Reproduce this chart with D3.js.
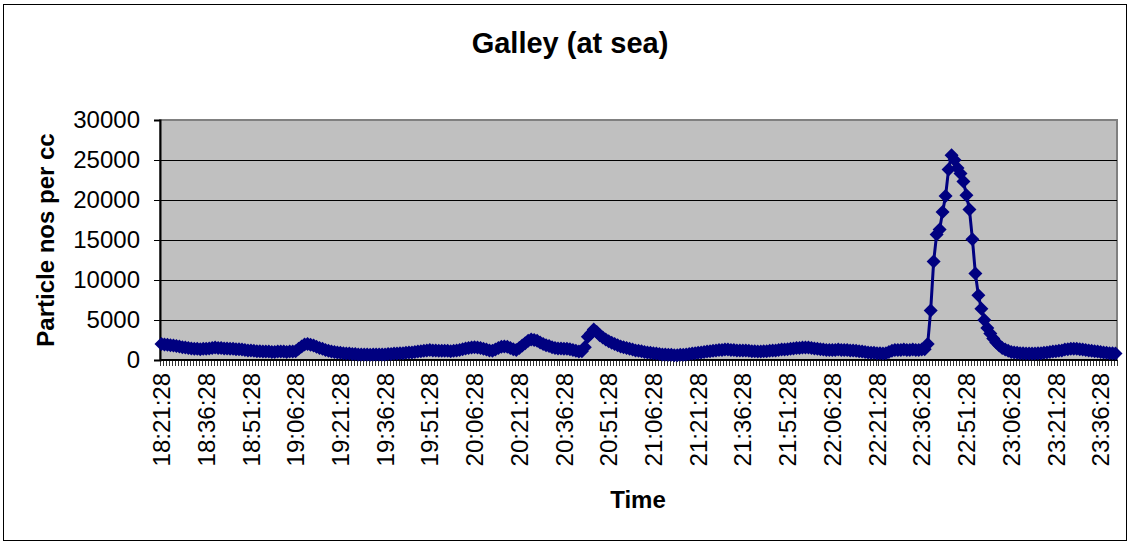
<!DOCTYPE html>
<html>
<head>
<meta charset="utf-8">
<script src="https://cdn.jsdelivr.net/npm/d3@7"></script>
<style>
  body { margin: 0; background: #fff; }
  text { font-family: Arial, "Liberation Sans", sans-serif; fill: #000; }
</style>
</head>
<body>
<script>
/**
 * DATA
 */
const START_TIME = "18:21:28"; // first reading, then one reading per minute
const particles = [
  2000, 1950, 1900, 1850, 1800, 1750, 1700, 1600, 1550, 1500, 1450, 1400, 1400, 1350, 1400, 1400, 1450, 1500, 1550, 1500,
  1500, 1450, 1450, 1400, 1400, 1350, 1350, 1300, 1250, 1200, 1200, 1150, 1100, 1100, 1050, 1050, 1050, 1000, 1000, 1050,
  1050, 1050, 1000, 1050, 1050, 1100, 1400, 1700, 1950, 2000, 1900, 1800, 1650, 1500, 1400, 1250, 1150, 1050, 1000, 950,
  900, 850, 800, 800, 750, 750, 700, 700, 700, 700, 650, 700, 700, 700, 700, 700, 750, 750, 800, 800,
  850, 850, 900, 950, 950, 1000, 1050, 1100, 1150, 1200, 1250, 1200, 1200, 1150, 1150, 1150, 1150, 1100, 1150, 1200,
  1250, 1350, 1450, 1500, 1550, 1600, 1550, 1500, 1400, 1300, 1200, 1150, 1300, 1500, 1650, 1700, 1650, 1500, 1350, 1250,
  1500, 1800, 2100, 2400, 2550, 2500, 2400, 2200, 2000, 1850, 1750, 1600, 1500, 1450, 1450, 1400, 1400, 1350, 1250, 1150,
  1050, 1100, 1600, 2900, 3300, 3800, 3500, 3100, 2800, 2550, 2350, 2150, 2000, 1850, 1700, 1600, 1500, 1400, 1300, 1200,
  1150, 1100, 1000, 950, 900, 850, 800, 750, 700, 700, 650, 650, 600, 600, 650, 650, 700, 750, 800, 850,
  900, 950, 1000, 1050, 1100, 1150, 1200, 1250, 1250, 1300, 1300, 1250, 1250, 1200, 1200, 1200, 1200, 1150, 1100, 1100,
  1050, 1050, 1100, 1100, 1150, 1200, 1200, 1250, 1300, 1300, 1350, 1400, 1450, 1500, 1500, 1550, 1550, 1550, 1500, 1450,
  1400, 1350, 1300, 1250, 1250, 1250, 1250, 1300, 1250, 1250, 1250, 1200, 1200, 1150, 1100, 1050, 1000, 950, 900, 900,
  850, 850, 800, 850, 1000, 1150, 1250, 1250, 1250, 1300, 1250, 1250, 1300, 1250, 1250, 1300, 1350, 2000, 6200, 12300,
  15700, 16300, 18500, 20500, 23800, 25600, 25000, 24000, 23300, 22300, 20600, 18800, 15100, 10800, 8100, 6400, 5000, 4000, 3300, 2700,
  2200, 1800, 1500, 1300, 1150, 1000, 950, 900, 850, 850, 800, 800, 800, 800, 850, 850, 900, 950, 1000, 1050,
  1100, 1150, 1200, 1300, 1350, 1400, 1400, 1400, 1350, 1300, 1250, 1200, 1150, 1100, 1050, 1000, 950, 900, 850, 850,
  800
];
const yTicks = [0, 5000, 10000, 15000, 20000, 25000, 30000];
const xTickLabels = [
  "18:21:28", "18:36:28", "18:51:28", "19:06:28", "19:21:28", "19:36:28", "19:51:28", "20:06:28",
  "20:21:28", "20:36:28", "20:51:28", "21:06:28", "21:21:28", "21:36:28", "21:51:28", "22:06:28",
  "22:21:28", "22:36:28", "22:51:28", "23:06:28", "23:21:28", "23:36:28"
];
const LABEL_EVERY = 15; // a time label on every 15th category

/**
 * LAYOUT
 */
const WIDTH = 1130;
const HEIGHT = 544;
const PLOT = { left: 160, right: 1117, top: 120, bottom: 360 };
const NAVY = "#000080";
const MARKER_R = 7;
const TICK_FONT = 24;

// categories: one string per reading, minute by minute from START_TIME
const parseTime = d3.timeParse("%H:%M:%S");
const fmtTime = d3.timeFormat("%H:%M:%S");
const categories = particles.map((_d, i) =>
  fmtTime(d3.timeMinute.offset(parseTime(START_TIME), i))
);

const svg = d3
  .select("body")
  .append("svg")
  .attr("width", WIDTH)
  .attr("height", HEIGHT);

// outer chart border
svg
  .append("rect")
  .attr("x", 3.5)
  .attr("y", 4.5)
  .attr("width", 1123)
  .attr("height", 536)
  .attr("fill", "#fff")
  .attr("stroke", "#000");

const x = d3
  .scaleBand()
  .domain(categories)
  .range([PLOT.left, PLOT.right])
  .padding(0);
const y = d3.scaleLinear().domain([0, 30000]).range([PLOT.bottom, PLOT.top]);
const cx = (d) => x(d) + x.bandwidth() / 2;

// plot area
svg
  .append("rect")
  .attr("x", PLOT.left)
  .attr("y", PLOT.top)
  .attr("width", PLOT.right - PLOT.left)
  .attr("height", PLOT.bottom - PLOT.top)
  .attr("fill", "#c0c0c0")
  .attr("stroke", "#808080")
  .attr("stroke-width", 2);

// gridlines
svg
  .append("g")
  .selectAll("line")
  .data(yTicks.filter((d) => d > 0 && d < 30000))
  .join("line")
  .attr("x1", PLOT.left)
  .attr("x2", PLOT.right)
  .attr("y1", (d) => Math.round(y(d)) + 0.5)
  .attr("y2", (d) => Math.round(y(d)) + 0.5)
  .attr("stroke", "#000")
  .attr("stroke-width", 1);

// y axis
const yAxis = svg
  .append("g")
  .attr("transform", `translate(${PLOT.left},0)`)
  .call(
    d3.axisLeft(y).tickValues(yTicks).tickSize(6).tickPadding(14).tickFormat(d3.format("d"))
  );
yAxis.select(".domain").attr("stroke", "#000").attr("stroke-width", 2);
yAxis.selectAll("text").attr("font-size", TICK_FONT).attr("font-family", null);

// x axis: tick marks on each category boundary, labels every 15th category
const boundaries = categories.map((c) => x(c)).concat([PLOT.right]);
svg
  .append("g")
  .selectAll("line")
  .data(boundaries)
  .join("line")
  .attr("x1", (d) => Math.round(d) + 0.5)
  .attr("x2", (d) => Math.round(d) + 0.5)
  .attr("y1", PLOT.bottom)
  .attr("y2", PLOT.bottom + 6)
  .attr("stroke", "#000")
  .attr("stroke-width", 0.8);

svg
  .append("line")
  .attr("x1", PLOT.left)
  .attr("x2", PLOT.right)
  .attr("y1", PLOT.bottom)
  .attr("y2", PLOT.bottom)
  .attr("stroke", "#000")
  .attr("stroke-width", 2);

const labelled = categories.filter((_c, i) => i % LABEL_EVERY === 0);
const xAxis = svg
  .append("g")
  .attr("transform", `translate(0,${PLOT.bottom})`)
  .call(
    d3
      .axisBottom(x)
      .tickValues(labelled)
      .tickSize(0)
      .tickFormat((_d, i) => xTickLabels[i])
  );
xAxis.select(".domain").remove();
xAxis
  .selectAll("text")
  .attr("font-size", TICK_FONT)
  .attr("font-family", null)
  .attr("transform", "rotate(-90)")
  .attr("text-anchor", "end")
  .attr("x", -13)
  .attr("y", 0)
  .attr("dy", "0.36em");

// series
const points = particles.map((v, i) => ({ c: categories[i], v }));
svg
  .append("path")
  .datum(points)
  .attr("fill", "none")
  .attr("stroke", NAVY)
  .attr("stroke-width", 3)
  .attr("stroke-linejoin", "round")
  .attr("d", d3.line().x((d) => cx(d.c)).y((d) => y(d.v)));

const r = MARKER_R;
svg
  .append("g")
  .selectAll("path")
  .data(points)
  .join("path")
  .attr("transform", (d) => `translate(${cx(d.c)},${y(d.v)})`)
  .attr("d", `M0,${-r}L${r},0L0,${r}L${-r},0Z`)
  .attr("fill", NAVY);

// titles
svg
  .append("text")
  .attr("x", 570)
  .attr("y", 53)
  .attr("text-anchor", "middle")
  .attr("font-size", 29)
  .attr("font-weight", "bold")
  .text("Galley (at sea)");

svg
  .append("text")
  .attr("x", 638)
  .attr("y", 508)
  .attr("text-anchor", "middle")
  .attr("font-size", 24)
  .attr("font-weight", "bold")
  .text("Time");

svg
  .append("text")
  .attr("transform", `translate(54,${(PLOT.top + PLOT.bottom) / 2}) rotate(-90)`)
  .attr("text-anchor", "middle")
  .attr("font-size", 24)
  .attr("font-weight", "bold")
  .text("Particle nos per cc");
</script>
</body>
</html>
